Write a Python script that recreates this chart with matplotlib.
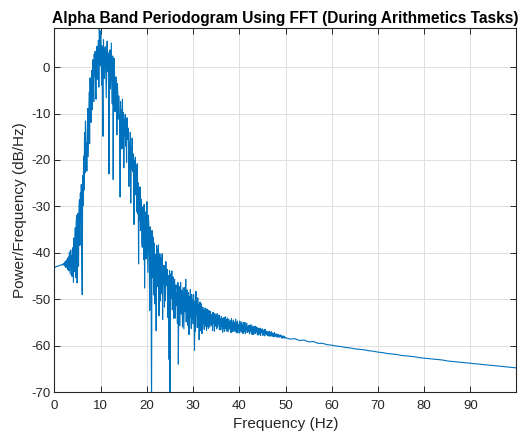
import numpy as np
import matplotlib
matplotlib.use("Agg")
import matplotlib.pyplot as plt

plt.rcParams['font.family'] = ['Liberation Sans', 'DejaVu Sans']
plt.rcParams['axes.unicode_minus'] = False

# Periodogram values (dB/Hz), 0.1 Hz bins from 0 to 50 Hz
power_low = [
    -43.2, -43.1, -43.1, -43.0, -43.0, -42.9, -42.9, -42.9, -42.8, -42.8,
    -42.8, -42.7, -42.7, -42.7, -42.6, -42.6, -42.6, -42.5, -42.6, -42.4,
    -42.3, -42.7, -42.0, -42.9, -41.8, -43.2, -41.6, -42.5, -41.3, -43.6,
    -40.9, -43.9, -39.8, -42.2, -44.6, -39.4, -43.0, -40.6, -45.1, -38.9,
    -42.7, -46.4, -36.8, -44.0, -38.5, -34.6, -45.3, -33.2, -31.9, -46.5,
    -35.8, -31.5, -42.9, -30.2, -28.6, -38.4, -27.1, -33.6, -25.3, -40.8,
    -49.0, -23.4, -29.8, -19.2, -26.5, -14.1, -22.8, -11.6, -20.9, -16.3,
    -22.4, -13.6, -8.9, -19.3, -11.8, -5.4, -16.5, -2.3, -8.7, -11.9,
    -4.8, -0.7, -9.2, 1.6, -3.6, -7.4, 2.8, -1.9, 3.4, -5.6,
    -6.9, 2.1, 4.5, -2.6, 0.9, 5.8, -4.3, 8.6, 3.2, 0.4,
    7.8, 1.5, -3.9, 4.6, -7.1, -14.9, 5.9, 0.2, -2.4, 3.8,
    4.4, -1.6, -6.6, 2.7, 5.6, -0.9, 3.1, -4.8, -23.0, 1.2,
    3.7, -4.7, 0.8, 5.2, -2.9, -7.9, 2.4, -24.2, -1.5, 1.9,
    -1.3, -9.6, -4.2, -2.1, -7.0, -14.6, -3.5, -5.8, -11.2, -6.2,
    -8.8, -12.5, -28.0, -7.4, -15.3, -9.2, -17.6, -6.9, -13.4, -9.8,
    -21.7, -11.4, -14.8, -10.2, -17.0, -12.6, -20.5, -10.9, -15.6, -13.1,
    -14.4, -25.7, -16.2, -18.9, -14.0, -29.3, -17.1, -22.0, -15.3, -19.8,
    -22.6, -18.7, -33.9, -20.1, -25.4, -19.4, -27.5, -21.3, -31.2, -20.8,
    -31.6, -24.9, -42.4, -27.0, -33.1, -25.8, -35.2, -28.4, -30.3, -37.6,
    -38.8, -30.1, -32.7, -41.5, -29.6, -47.6, -34.0, -31.2, -41.3, -33.5,
    -29.0, -36.8, -44.2, -31.9, -33.6, -40.7, -52.4, -34.4, -36.3, -45.8,
    -75.0, -35.2, -38.7, -45.4, -36.6, -49.1, -37.9, -51.0, -40.3, -43.6,
    -56.8, -38.4, -39.5, -47.3, -41.9, -38.3, -53.6, -43.0, -40.2, -50.4,
    -41.1, -48.8, -42.7, -40.2, -54.4, -43.9, -46.5, -42.7, -51.7, -44.8,
    -50.3, -41.9, -45.6, -47.0, -43.6, -53.9, -44.9, -49.2, -63.0, -43.8,
    -76.0, -44.6, -49.9, -46.2, -43.9, -52.3, -47.5, -45.2, -54.1, -46.0,
    -45.7, -54.1, -47.9, -46.9, -51.4, -48.6, -55.2, -46.4, -64.0, -49.5,
    -47.3, -55.7, -48.8, -46.4, -53.2, -50.1, -48.1, -56.0, -47.5, -52.4,
    -56.4, -47.5, -50.7, -52.7, -45.7, -54.9, -49.2, -48.0, -55.6, -50.8,
    -48.6, -57.6, -49.4, -53.9, -47.9, -51.6, -56.3, -49.0, -54.2, -50.2,
    -55.3, -49.0, -52.8, -61.0, -50.4, -57.0, -48.3, -53.5, -51.2, -56.1,
    -49.7, -55.9, -51.1, -58.7, -52.2, -50.6, -56.8, -52.9, -51.0, -57.4,
    -56.1, -51.7, -55.3, -52.5, -56.5, -53.4, -51.9, -55.8, -52.8, -56.7,
    -52.1, -55.8, -53.0, -56.3, -52.4, -54.9, -56.0, -52.6, -55.4, -53.3,
    -55.6, -53.2, -56.7, -52.8, -55.1, -54.0, -56.9, -53.1, -55.8, -53.6,
    -53.5, -56.4, -53.1, -56.0, -53.9, -55.3, -53.4, -56.6, -54.2, -55.7,
    -56.6, -53.7, -55.8, -54.1, -57.1, -54.4, -56.3, -53.9, -56.9, -54.6,
    -53.8, -56.3, -54.4, -56.9, -54.0, -55.6, -57.0, -54.3, -56.1, -54.8,
    -56.5, -54.6, -57.2, -54.2, -56.1, -55.0, -57.0, -54.5, -56.6, -55.2,
    -54.9, -57.0, -54.3, -56.6, -55.1, -57.3, -54.7, -56.2, -55.4, -57.1,
    -57.3, -54.7, -56.7, -55.2, -57.1, -54.9, -56.4, -55.6, -57.4, -55.0,
    -55.4, -56.9, -55.0, -57.4, -55.7, -56.5, -55.2, -57.2, -55.9, -56.8,
    -57.0, -55.6, -57.5, -55.9, -56.8, -55.5, -57.3, -56.1, -57.6, -55.8,
    -56.0, -57.6, -56.1, -57.2, -55.8, -57.4, -56.3, -57.0, -56.0, -57.7,
    -57.4, -56.3, -57.7, -56.5, -57.3, -56.2, -57.8, -56.6, -57.1, -56.4,
    -56.4, -57.8, -56.7, -57.5, -56.6, -57.9, -56.5, -57.3, -56.9, -57.6,
    -57.7, -57.0, -57.9, -57.1, -57.6, -56.9, -58.0, -57.2, -57.8, -57.0,
    -57.2, -58.0, -57.3, -57.8, -57.4, -58.1, -57.2, -57.9, -57.5, -58.0,
    -57.9, -57.5, -58.2, -57.7, -58.0, -57.6, -58.2, -57.8, -58.1, -57.7,
    -57.8, -58.3, -57.9, -58.4, -58.0, -58.2, -57.9, -58.4, -58.1, -58.3,
    -58.3,
]
# 1 Hz bins from 51 to 100 Hz
power_high = [
    -58.6, -58.5, -58.9, -58.8, -59.2, -59.1, -59.5, -59.5, -59.8, -59.9,
    -60.1, -60.2, -60.4, -60.5, -60.7, -60.8, -60.9, -61.1, -61.2, -61.4,
    -61.5, -61.7, -61.8, -61.9, -62.1, -62.2, -62.3, -62.4, -62.6, -62.7,
    -62.8, -62.9, -63.0, -63.1, -63.3, -63.4, -63.5, -63.6, -63.7, -63.8,
    -63.9, -64.0, -64.1, -64.2, -64.3, -64.4, -64.5, -64.6, -64.7, -64.8,
]
freq_low = np.round(np.arange(len(power_low)) * 0.1, 2)
freq_high = np.arange(51, 51 + len(power_high), 1.0)

freq = np.concatenate([freq_low, freq_high])
power = np.array(power_low + power_high)

x_ticks = [0, 10, 20, 30, 40, 50, 60, 70, 80, 90]
y_ticks = [-70, -60, -50, -40, -30, -20, -10, 0]

fig = plt.figure(figsize=(5.24, 4.4), dpi=100)
ax = fig.add_axes([0.104, 0.109, 0.881, 0.827])
ax.plot(freq, power, color='#0072BD', linewidth=0.8)

ax.set_xlim(0, 99.9)
ax.set_ylim(-70, 8.4)
ax.set_xticks(x_ticks)
ax.set_yticks(y_ticks)
ax.grid(True, color='#DFDFDF', linewidth=0.7)
ax.set_axisbelow(True)
ax.tick_params(direction='in', top=True, right=True, length=4, width=0.7,
               colors='#262626', labelsize=9.5)
ax.tick_params(axis='x', pad=6)
ax.tick_params(axis='y', pad=3)
for s in ax.spines.values():
    s.set_color('#262626')
    s.set_linewidth(0.8)

ax.set_xlabel('Frequency (Hz)', fontsize=11, color='#262626', labelpad=3)
ax.set_ylabel('Power/Frequency (dB/Hz)', fontsize=11, color='#262626', labelpad=3)
ax.set_title('Alpha Band Periodogram Using FFT (During Arithmetics Tasks)',
             fontsize=11.2, fontweight='bold', color='black', pad=4)

fig.savefig('out.png', dpi=100)
